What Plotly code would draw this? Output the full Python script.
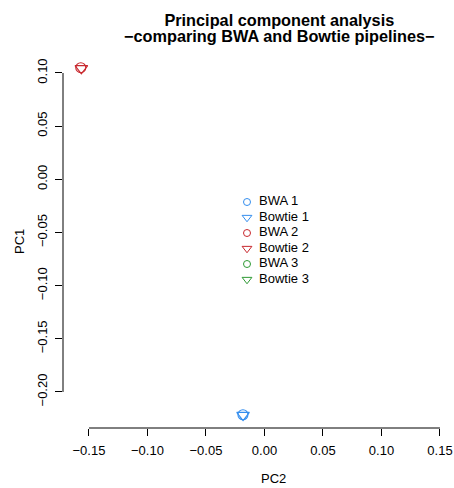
import plotly.graph_objects as go

# Sample scores on the first two principal components
samples = ["BWA 1", "Bowtie 1", "BWA 2", "Bowtie 2", "BWA 3", "Bowtie 3"]
pc2 = [-0.0184, -0.0183, -0.1570, -0.1565, None, None]
pc1 = [-0.2214, -0.2218, 0.1050, 0.1043, None, None]
symbols = ["circle-open", "triangle-down-open"] * 3
colors = ["#348EEE", "#348EEE", "#C8282E", "#C8282E", "#2E9A34", "#2E9A34"]

x_ticks = [-0.15, -0.10, -0.05, 0.00, 0.05, 0.10, 0.15]
y_ticks = [-0.20, -0.15, -0.10, -0.05, 0.00, 0.05, 0.10]

title_lines = ["Principal component analysis",
               "\u2212comparing BWA and Bowtie pipelines\u2212"]

FONT = "Liberation Sans"
W, H = 454, 488
ML, MR, MT, MB = 63, 0, 58, 60
PW, PH = W - ML - MR, H - MT - MB


def px_x(p):
    return (p - ML) / PW


def px_y(p):
    return (H - MB - p) / PH


fig = go.Figure()

# Points
for name, x, y, sym, col in zip(samples, pc2, pc1, symbols, colors):
    big = 11 if sym.startswith("triangle") else 10
    fig.add_trace(go.Scatter(
        x=[x], y=[y], mode="markers", name=name, showlegend=False,
        marker=dict(symbol=sym, size=big, color=col, line=dict(width=1.1, color=col)),
        cliponaxis=False,
    ))

# Key drawn on its own small axes, one row per sample
rows = list(range(len(samples)))
for r, name, sym, col in zip(rows, samples, symbols, colors):
    small = 8.5 if sym.startswith("triangle") else 7
    fig.add_trace(go.Scatter(
        x=[0], y=[r], mode="markers", xaxis="x2", yaxis="y2", showlegend=False,
        marker=dict(symbol=sym, size=small, color=col, line=dict(width=1, color=col)),
        cliponaxis=False, hoverinfo="skip",
    ))
fig.add_trace(go.Scatter(
    x=[12] * len(samples), y=rows, mode="text", text=samples,
    textposition="middle right", xaxis="x2", yaxis="y2", showlegend=False,
    textfont=dict(family=FONT, size=13, color="#000000"), cliponaxis=False,
    hoverinfo="skip",
))

# Axis lines spanning only the labelled tick range
fig.add_shape(type="line", xref="x", yref="paper", x0=min(x_ticks), x1=max(x_ticks),
              y0=0, y1=0, line=dict(color="#000000", width=1))
fig.add_shape(type="line", xref="paper", yref="y", x0=0, x1=0,
              y0=min(y_ticks), y1=max(y_ticks), line=dict(color="#000000", width=1))

axis_common = dict(
    showgrid=False, zeroline=False, showline=False, ticks="outside", ticklen=7,
    tickwidth=1, tickcolor="#000000", tickformat=".2f", automargin=False,
    tickfont=dict(family=FONT, size=13, color="#000000"),
)

title_html = "<br>".join(
    "<span style='font-size:16.3px'><b>%s</b></span>" % t for t in title_lines
)

fig.update_layout(
    width=W, height=H,
    margin=dict(l=ML, r=MR, t=MT, b=MB, autoexpand=False),
    paper_bgcolor="white", plot_bgcolor="rgba(0,0,0,0)",
    showlegend=False,
    xaxis=dict(range=[-0.1722, 0.1620], tickvals=x_ticks, ticklabelstandoff=3, **axis_common),
    yaxis=dict(range=[-0.2339, 0.1141], tickvals=y_ticks, tickangle=-90,
               ticklabelstandoff=3, **axis_common),
    xaxis2=dict(domain=[px_x(235), px_x(335)], range=[-12, 88], anchor="y2", visible=False,
                fixedrange=True, automargin=False),
    yaxis2=dict(domain=[px_y(287.25), px_y(194.25)], range=[5.5, -0.5], anchor="x2",
                visible=False, fixedrange=True, automargin=False),
    annotations=[
        dict(text=title_html, xref="paper", yref="paper",
             x=px_x(279), y=px_y(28), xanchor="center", yanchor="middle", showarrow=False,
             font=dict(family=FONT, size=12.3, color="#000000")),
        dict(text="PC2", xref="paper", yref="paper", x=px_x(273), y=px_y(478),
             xanchor="center", yanchor="middle", showarrow=False,
             font=dict(family=FONT, size=13, color="#000000")),
        dict(text="PC1", xref="paper", yref="paper", x=px_x(19), y=px_y(242),
             xanchor="center", yanchor="middle", showarrow=False, textangle=-90,
             font=dict(family=FONT, size=13, color="#000000")),
    ],
)

fig.write_html("out.html")
